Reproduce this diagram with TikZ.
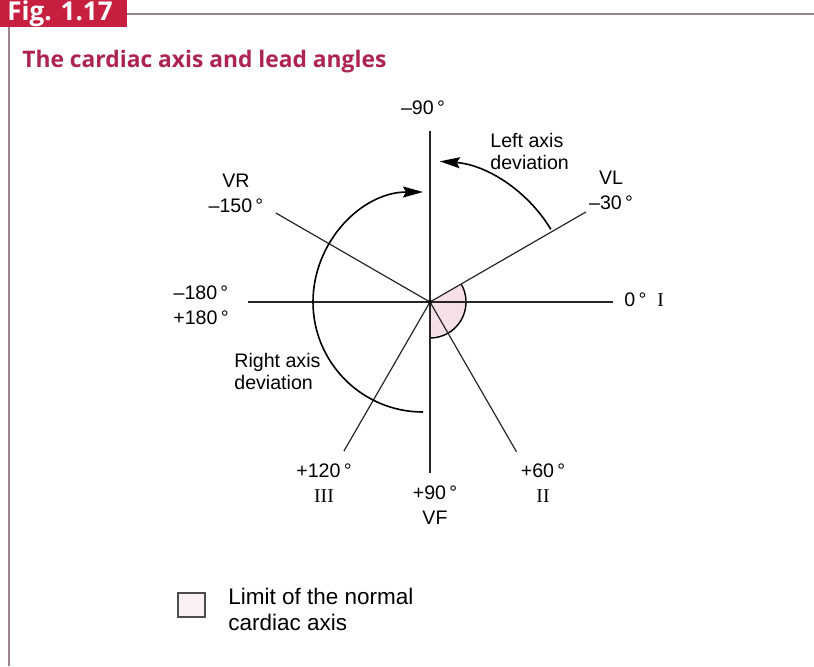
\documentclass[tikz,border=0pt]{standalone}
\usepackage{fontspec}
\setmainfont{Liberation Sans}
\newfontfamily\serifnum{Liberation Serif}
\newfontfamily\headfont{Open Sans}
\usetikzlibrary{arrows.meta}
\definecolor{figred}{HTML}{C71F3F}
\definecolor{headred}{HTML}{AD2452}
\definecolor{rulecol}{HTML}{9C8290}
\definecolor{normal}{HTML}{F6E0E7}
\definecolor{legfill}{HTML}{FAF0F4}

\begin{document}
\begin{tikzpicture}[x=0.5pt, y=-0.5pt, font=\fontsize{9.8}{12.5}\selectfont,
  lead/.style={line width=0.6pt, black!85},
  devarc/.style={line width=0.8pt, -{Stealth[length=10pt,width=5.5pt,inset=1.5pt]}},
  lbl/.style={align=center, inner sep=0pt}]
\useasboundingbox (0,0) rectangle (814,666);
% header and frame
\fill[figred] (0,0) rectangle (127,27);
\node[text=white, font=\headfont\bfseries\fontsize{13}{15}\selectfont] (fig) at (60,14) {Fig. 1.17};
\draw[rulecol, line width=0.8pt] (127,14) -- (814,14);
\draw[rulecol, line width=0.8pt] (9,27) -- (9,666);
\node[anchor=base west, inner sep=0pt, text=headred, font=\headfont\bfseries\fontsize{11.4}{14}\selectfont] (title) at (22,67) {The cardiac axis and lead angles};
% lead axes
\coordinate (o) at (430,302);
\foreach \a/\r/\n in {0/183/I, 180/182/R180, -90/171/Up, 90/171/VF, -30/180/VL, -150/178/VR, 60/173/II, 120/172/III}
  \path (o) ++(\a:\r) coordinate (\n);
\fill[normal] (o) -- ++(-30:36) arc[start angle=-30, end angle=90, radius=36] -- cycle;
\draw[line width=0.7pt] (o) ++(-30:36) arc[start angle=-30, end angle=90, radius=36];
\foreach \n in {I, R180, Up, VF, VL, VR, II, III}
  \draw[lead] (o) -- (\n);
\fill (o) circle[radius=2];
% axis deviation arcs
\coordinate (rc) at (423,302);
\draw[devarc] (rc) ++(90:110) arc[start angle=90, end angle=270, radius=110];
\draw[devarc] (o) ++(-31:141) arc[start angle=-31, end angle=-86, radius=141];
% angle labels
\foreach \n/\x/\y/\t in {lUp/423/108/{--90\,°}, lVL/611/190/{VL\\--30\,°}, lVR/236/193/{VR\\--150\,°},
    lR180/201/305/{--180\,°\\+180\,°}, lIII/324/483/{+120\,°\\{\serifnum III}},
    lVF/435/505/{+90\,°\\VF}, lII/543/483/{+60\,°\\{\serifnum II}}}
  \node[lbl] (\n) at (\x,\y) {\t};
\node[anchor=west, inner sep=0pt] (lI) at (624,300) {0\,°\ \ {\serifnum I}};
\node[anchor=west, align=left, inner sep=0pt, font=\fontsize{9.8}{11}\selectfont] (lad) at (490,151) {Left axis\\deviation};
\node[anchor=west, align=left, inner sep=0pt, font=\fontsize{9.8}{11}\selectfont] (rad) at (234,371) {Right axis\\deviation};
% key
\node[draw=black!70, fill=legfill, line width=0.6pt, minimum width=13.5pt, minimum height=12pt, inner sep=0pt] (key) at (191.5,605) {};
\node[anchor=west, align=left, inner sep=0pt, font=\fontsize{11.25}{13}\selectfont] (keytxt) at (228,609) {Limit of the normal\\cardiac axis};
\end{tikzpicture}
\end{document}
